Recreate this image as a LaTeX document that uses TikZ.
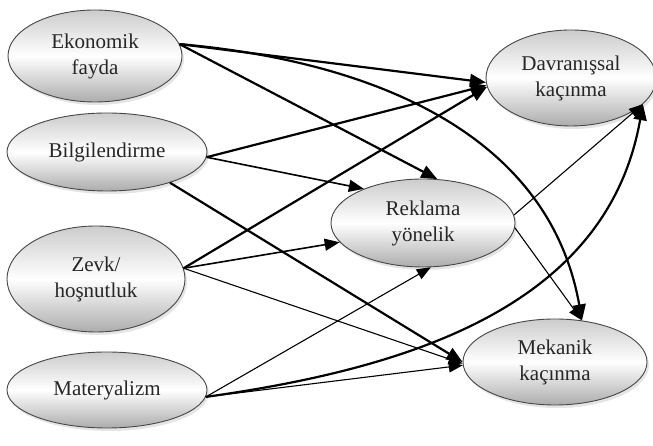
\documentclass[tikz,border=0pt]{standalone}
\usepackage{fontspec}
\setmainfont{Liberation Serif}
\usepackage{tikz}
\usetikzlibrary{arrows.meta,shapes,shadows,positioning}

\tikzset{
  factor/.style={ellipse, draw=gray!55!black, line width=0.9pt,
    top color=gray!40, bottom color=gray!65, middle color=white,
    drop shadow={shadow xshift=2pt, shadow yshift=-3pt, fill=gray!40},
    align=center, text=black!85, inner sep=0pt,
    font=\fontsize{21}{26}\selectfont},
  strong/.style={line width=2.2pt, -{Triangle[length=16pt,width=13pt]}},
  medium/.style={line width=1.6pt, -{Triangle[length=15pt,width=12pt]}},
  weak/.style={line width=1.1pt, -{Triangle[length=14pt,width=11pt]}}
}

\begin{document}
\begin{tikzpicture}[x=1pt,y=1pt]

\useasboundingbox (0,0) rectangle (653,446);

\node[factor, minimum width=174pt, minimum height=92pt] (eko) at (95,390) {Ekonomik\\fayda};
\node[factor, minimum width=200pt, minimum height=78pt] (bil) at (107,294) {Bilgilendirme};
\node[factor, minimum width=178pt, minimum height=106pt] (zev) at (96,167) {Zevk/\\hoşnutluk};
\node[factor, minimum width=200pt, minimum height=76pt] (mat) at (107,56) {Materyalizm};

\node[factor, minimum width=170pt, minimum height=96pt] (dav) at (571,368) {Davranışsal\\kaçınma};
\node[factor, minimum width=184pt, minimum height=88pt] (rek) at (423,223) {Reklama\\yönelik};
\node[factor, minimum width=184pt, minimum height=86pt] (mek) at (555,84) {Mekanik\\kaçınma};

% ekonomik fayda
\draw[strong] (eko.8) -- (dav.183);
\draw[strong] (eko.8) -- (rek.72);
\draw[strong] (eko.8) to[out=-5,in=100] (mek.57);
% bilgilendirme
\draw[strong] (bil.-3) -- (dav.185);
\draw[medium] (bil.-3) -- (rek.150);
\draw[strong] (bil.-26) -- (mek.180);
% zevk
\draw[strong] (zev.7) -- (dav.186);
\draw[medium] (zev.7) -- (rek.193);
\draw[weak] (zev.7) -- (mek.181);
% materyalizm
\draw[weak] (mat.-4) -- (rek.-80);
\draw[weak] (mat.-4) -- (mek.182);
\draw[strong] (mat.-4) to[out=8,in=-100] (dav.-20);
% reklama
\draw[weak] (rek.5) -- (dav.-20);
\draw[weak] (rek.-3) -- (mek.57);
\end{tikzpicture}
\end{document}
